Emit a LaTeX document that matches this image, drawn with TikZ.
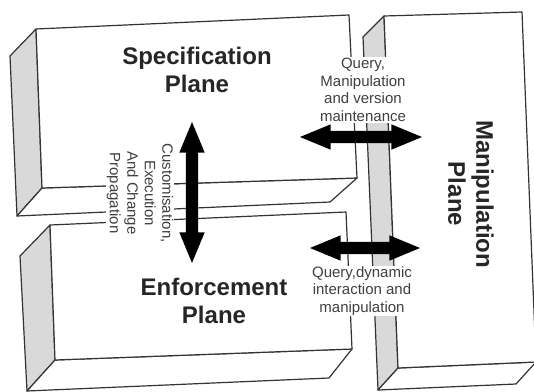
\documentclass[tikz,border=0pt]{standalone}
\usepackage{fontspec}
\setmainfont{Liberation Sans}
\usetikzlibrary{shapes.arrows}
\begin{document}
\begin{tikzpicture}[x=1pt,y=-1pt,
  edge/.style={draw=black!80, line width=1.2pt, line join=round},
  side/.style={edge, fill=gray!30},
  face/.style={edge, fill=white},
  bigarrow/.style={double arrow, fill=black, draw=none, inner xsep=0pt, inner ysep=6pt,
    minimum width=0pt, double arrow head extend=6.5pt, double arrow tip angle=45},
  plane/.style={font=\fontsize{24}{28}\selectfont\bfseries, align=center, text=black!85},
  note/.style={font=\fontsize{15}{17.5}\selectfont, align=center, text=black!75,
    fill=white, inner sep=1pt}]
\useasboundingbox (0,0) rectangle (534,391);
% Manipulation slab
\path[side] (384,16) -- (363,37) -- (378,390) -- (398,368) -- cycle;
\path[face] (398,368) -- (536,362) -- (516,384) -- (378,390) -- cycle;
\path[face] (384,16) -- (522,12) -- (536,362) -- (398,368) -- cycle;
% Specification slab
\path[side] (36,29) -- (10,56) -- (17,216) -- (42,188) -- cycle;
\path[face] (42,188) -- (357,178) -- (330,202) -- (17,216) -- cycle;
\path[face] (36,29) -- (349,15) -- (357,178) -- (42,188) -- cycle;
% Enforcement slab
\path[side] (50,225) -- (20,256) -- (27,391) -- (55,360) -- cycle;
\path[face] (55,360) -- (352,349) -- (329,378) -- (27,391) -- cycle;
\path[face] (50,225) -- (346,212) -- (352,349) -- (55,360) -- cycle;
% Labels
\node[plane] (spec) at (197,70) {Specification\\Plane};
\node[plane] (enf) at (214,301) {Enforcement\\Plane};
\node[plane, rotate=-90] (man) at (471,194) {Manipulation\\Plane};
\node[note, rotate=-90] (cust) at (140,193) {Customisation,\\Execution\\And Change\\Propagation};
\node[note] (qm) at (363,90) {Query,\\Manipulation\\and version\\maintenance};
\node[note] (qd) at (362,291) {Query,dynamic\\interaction and\\manipulation};
% Arrows
\node[bigarrow, minimum height=122pt] (ah1) at (361,137) {};
\node[bigarrow, minimum height=110pt] (ah2) at (365,248) {};
\node[bigarrow, minimum height=141pt, rotate=90] (av) at (192,192.5) {};
\end{tikzpicture}
\end{document}
